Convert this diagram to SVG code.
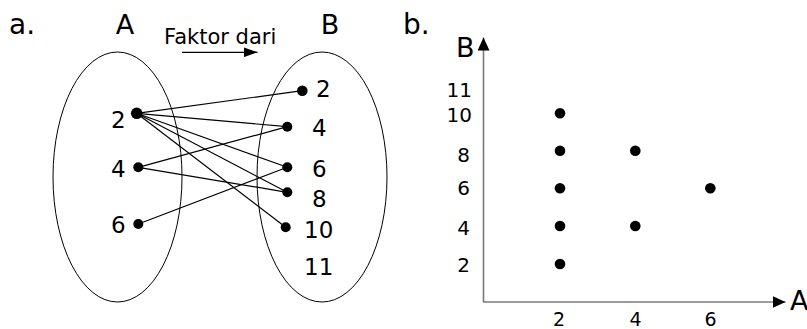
<svg xmlns="http://www.w3.org/2000/svg" width="807" height="329" viewBox="0 0 807 329">
  <defs>
    <style>
      text { font-family: "DejaVu Sans", Verdana, sans-serif; fill: #000; }
      .title { font-size: 27px; }
      .num { font-size: 23px; }
      .tick { font-size: 20px; }
      .set { fill: none; stroke: #000; stroke-width: 1; }
      .edge { stroke: #000; stroke-width: 1.2; fill: none; }
      .axis { stroke: #7a7a7a; stroke-width: 1.6; fill: none; }
      .dot { fill: #000; }
    </style>
    <marker id="head" viewBox="0 0 14 10" refX="14" refY="5" markerWidth="14" markerHeight="10" markerUnits="userSpaceOnUse" orient="auto">
      <path d="M0,0 L14,5 L0,10 Z" fill="#000"/>
    </marker>
    <marker id="axhead" viewBox="0 0 13 12" refX="13" refY="6" markerWidth="13" markerHeight="12" markerUnits="userSpaceOnUse" orient="auto">
      <path d="M0,0 L13,6 L0,12 Z" fill="#000"/>
    </marker>
  </defs>

  <rect width="807" height="329" fill="#fff"/>

  <!-- part a: arrow diagram -->
  <text class="title" x="9" y="34" style="font-size:28px">a.</text>
  <text class="title" x="125" y="34" text-anchor="middle">A</text>
  <text class="title" x="330" y="34" text-anchor="middle">B</text>
  <text x="164" y="43.5" style="font-size:21px">Faktor dari</text>
  <line class="edge" x1="182" y1="52.3" x2="257.5" y2="52.3" marker-end="url(#head)"/>

  <g id="setA">
    <ellipse class="set" cx="117.5" cy="177" rx="64.5" ry="125"/>
    <text class="num" x="111" y="128.3">2</text>
    <text class="num" x="111" y="176.7">4</text>
    <text class="num" x="111" y="233">6</text>
  </g>

  <g id="setB">
    <ellipse class="set" cx="322" cy="177" rx="65" ry="125"/>
    <text class="num" x="316" y="96.5">2</text>
    <text class="num" x="312" y="135.5">4</text>
    <text class="num" x="312" y="176.7">6</text>
    <text class="num" x="312" y="206.7">8</text>
    <text class="num" x="304" y="238">10</text>
    <text class="num" x="304" y="275">11</text>
  </g>

  <g id="connectors">
    <line class="edge" x1="136.7" y1="113.3" x2="302.3" y2="90.7"/>
    <line class="edge" x1="136.7" y1="113.3" x2="287.3" y2="126.7"/>
    <line class="edge" x1="136.7" y1="113.3" x2="287.3" y2="167.3"/>
    <line class="edge" x1="136.7" y1="113.3" x2="287.3" y2="192.3"/>
    <line class="edge" x1="136.7" y1="113.3" x2="285.7" y2="227.3"/>
    <line class="edge" x1="138.3" y1="167.3" x2="287.3" y2="126.7"/>
    <line class="edge" x1="138.3" y1="167.3" x2="287.3" y2="192.3"/>
    <line class="edge" x1="138.3" y1="224" x2="287.3" y2="167.3"/>
  </g>

  <g id="dotsA">
    <circle class="dot" cx="136.7" cy="113.3" r="5.8"/>
    <circle class="dot" cx="138.3" cy="167.3" r="5"/>
    <circle class="dot" cx="138.3" cy="224" r="5"/>
  </g>
  <g id="dotsB">
    <circle class="dot" cx="302.3" cy="90.7" r="5.3"/>
    <circle class="dot" cx="287.3" cy="126.7" r="5"/>
    <circle class="dot" cx="287.3" cy="167.3" r="5"/>
    <circle class="dot" cx="287.3" cy="192.3" r="5"/>
    <circle class="dot" cx="285.7" cy="227.3" r="5"/>
  </g>

  <!-- part b: Cartesian plot -->
  <text class="title" x="403" y="34" style="font-size:28px">b.</text>
  <g id="axes">
    <line class="axis" x1="483.5" y1="302" x2="483.5" y2="37.5" marker-end="url(#axhead)"/>
    <line class="axis" x1="483" y1="302" x2="785.5" y2="302" marker-end="url(#axhead)"/>
    <text class="title" x="456" y="57">B</text>
    <text class="title" x="790" y="310">A</text>
  </g>

  <g id="ticksY" text-anchor="end">
    <text class="tick" x="472" y="97">11</text>
    <text class="tick" x="472" y="122">10</text>
    <text class="tick" x="470" y="162">8</text>
    <text class="tick" x="470" y="195">6</text>
    <text class="tick" x="470" y="235">4</text>
    <text class="tick" x="470" y="272">2</text>
  </g>
  <g id="ticksX" text-anchor="middle">
    <text class="tick" x="559" y="326" style="font-size:19px">2</text>
    <text class="tick" x="635.5" y="326" style="font-size:19px">4</text>
    <text class="tick" x="710.5" y="326" style="font-size:19px">6</text>
  </g>

  <g id="points">
    <circle class="dot" cx="560" cy="113.3" r="5.3"/>
    <circle class="dot" cx="560" cy="150.7" r="5.3"/>
    <circle class="dot" cx="560" cy="188.3" r="5.3"/>
    <circle class="dot" cx="560" cy="226" r="5.3"/>
    <circle class="dot" cx="560" cy="264" r="5.3"/>
    <circle class="dot" cx="635.3" cy="150.7" r="5.3"/>
    <circle class="dot" cx="635.3" cy="226" r="5.3"/>
    <circle class="dot" cx="710.3" cy="188.3" r="5.3"/>
  </g>
</svg>
